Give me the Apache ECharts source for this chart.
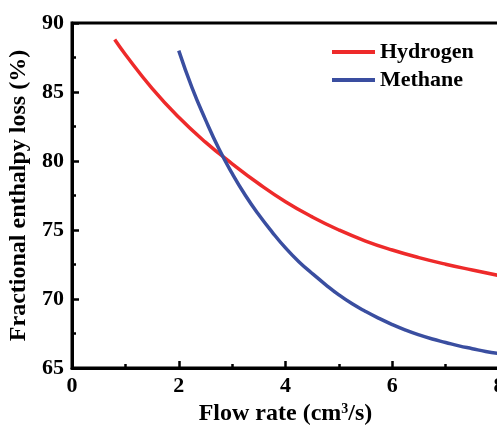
<!DOCTYPE html>
<html>
<head>
<meta charset="utf-8">
<script src="https://cdn.jsdelivr.net/npm/echarts@6/dist/echarts.min.js"></script>
<style>
html,body{margin:0;padding:0;background:#fff;}
#chart{width:497px;height:425px;}
</style>
</head>
<body>
<div id="chart"></div>
<script>
var hydrogenX = [0.8, 1.0, 1.5, 2.0, 2.5, 3.0, 3.5, 4.0, 4.5, 5.0, 5.5, 6.0, 6.5, 7.0, 7.5, 8.0];
var hydrogenY = [88.8, 87.72, 85.27, 83.17, 81.37, 79.8, 78.35, 77.05, 75.95, 75.0, 74.2, 73.55, 73.0, 72.52, 72.1, 71.7];
var methaneX = [2.0, 2.25, 2.5, 2.75, 3.0, 3.25, 3.5, 3.75, 4.0, 4.25, 4.5, 4.75, 5.0, 5.25, 5.5, 5.75, 6.0, 6.25, 6.5, 6.75, 7.0, 7.25, 7.5, 7.75, 8.0];
var methaneY = [88.0, 85.3, 83.0, 80.9, 79.1, 77.5, 76.1, 74.85, 73.7, 72.7, 71.85, 71.05, 70.3, 69.65, 69.1, 68.6, 68.15, 67.75, 67.4, 67.1, 66.85, 66.6, 66.4, 66.2, 66.04];
var seriesNames = ['Hydrogen', 'Methane'];
var seriesColors = ['#ee2a2a', '#3a4ea0'];
var xTitle = 'Flow rate (cm{sup|3}/s)';
var yTitle = 'Fractional enthalpy loss (%)';

function pairs(xs, ys) { return xs.map(function (x, i) { return [x, ys[i]]; }); }

var font = 'Liberation Serif';
var chart = echarts.init(document.getElementById('chart'));
chart.setOption({
  animation: false,
  grid: { left: 72, top: 23, width: 427, height: 345, show: true, borderColor: '#000', borderWidth: 3, outerBoundsMode: 'none' },
  legend: {
    left: 332, top: 41, orient: 'vertical', itemGap: 6, padding: 0,
    icon: 'rect', itemWidth: 43, itemHeight: 4,
    textStyle: { fontFamily: font, fontWeight: 'bold', fontSize: 22, color: '#000' },
    data: seriesNames
  },
  xAxis: {
    type: 'value', min: 0, max: 8, interval: 2,
    name: xTitle, nameLocation: 'middle', nameGap: 31,
    nameTextStyle: { fontFamily: font, fontWeight: 'bold', fontSize: 24, color: '#000',
      rich: { sup: { fontFamily: font, fontWeight: 'bold', fontSize: 14, color: '#000', verticalAlign: 'top', padding: [0, 0, 10, 0] } } },
    axisLine: { lineStyle: { color: '#000', width: 3 } },
    axisTick: { inside: true, length: 7, lineStyle: { color: '#000', width: 2.5 } },
    minorTick: { show: true, splitNumber: 2, length: 4, lineStyle: { color: '#000', width: 2.5 } },
    axisLabel: { fontFamily: font, fontWeight: 'bold', fontSize: 22, color: '#000', margin: 7 },
    splitLine: { show: false }
  },
  yAxis: {
    type: 'value', min: 65, max: 90, interval: 5,
    name: yTitle, nameLocation: 'middle', nameGap: 36, nameRotate: 90,
    nameTextStyle: { fontFamily: font, fontWeight: 'bold', fontSize: 24, color: '#000' },
    axisLine: { lineStyle: { color: '#000', width: 3 } },
    axisTick: { inside: true, length: 7, lineStyle: { color: '#000', width: 2.5 } },
    minorTick: { show: true, splitNumber: 2, length: 4, lineStyle: { color: '#000', width: 2.5 } },
    axisLabel: { fontFamily: font, fontWeight: 'bold', fontSize: 22, color: '#000', margin: 8 },
    splitLine: { show: false }
  },
  series: [
    { name: seriesNames[0], type: 'line', data: pairs(hydrogenX, hydrogenY), smooth: 0.5, showSymbol: false,
      lineStyle: { color: seriesColors[0], width: 3.5 }, itemStyle: { color: seriesColors[0] } },
    { name: seriesNames[1], type: 'line', data: pairs(methaneX, methaneY), smooth: 0.5, showSymbol: false,
      lineStyle: { color: seriesColors[1], width: 3.5 }, itemStyle: { color: seriesColors[1] } }
  ]
});
</script>
</body>
</html>
